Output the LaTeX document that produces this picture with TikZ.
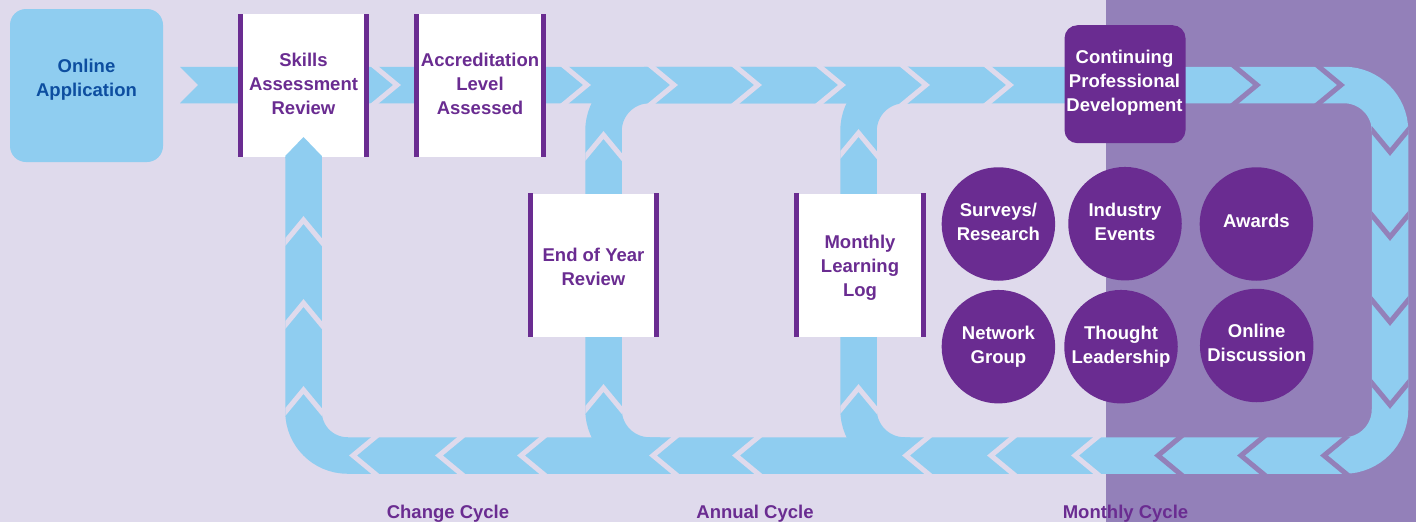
\documentclass[tikz,border=0pt]{standalone}
\usepackage{fontspec}
\setmainfont{Liberation Sans}
\definecolor{lav}{HTML}{DFDAEC}
\definecolor{dlav}{HTML}{9380B9}
\definecolor{bblue}{HTML}{8FCDF0}
\definecolor{purp}{HTML}{6A2C91}
\definecolor{dblue}{HTML}{0D4EA0}
% chevrons: right, left, up, down
\newcommand\chR[2]{\begin{scope}\clip ({#1-40},66.75) rectangle ({#1+10},103.25);\draw[chev,draw=#2] ({#1-29},61) -- (#1,85) -- ({#1-29},109);\end{scope}}
\newcommand\chL[2]{\begin{scope}\clip ({#1-10},437.25) rectangle ({#1+40},473.75);\draw[chev,draw=#2] ({#1+29},431.5) -- (#1,455.5) -- ({#1+29},479.5);\end{scope}}
\newcommand\chU[3]{\begin{scope}\clip ({#1-18.25},{#2-10}) rectangle ({#1+18.25},{#2+40});\draw[chev,draw=#3] ({#1-24},{#2+29}) -- (#1,#2) -- ({#1+24},{#2+29});\end{scope}}
\newcommand\chD[3]{\begin{scope}\clip ({#1-18.25},{#2+10}) rectangle ({#1+18.25},{#2-40});\draw[chev,draw=#3] ({#1-24},{#2-29}) -- (#1,#2) -- ({#1+24},{#2-29});\end{scope}}
\begin{document}
\begin{tikzpicture}[x=1pt,y=-1pt,
  band/.style={draw=bblue, line width=36.5pt},
  chev/.style={line width=5pt, line join=miter, miter limit=10},
  txt/.style={font=\bfseries\fontsize{18.5}{24}\selectfont, align=center, inner sep=0pt},
  wbox/.style={fill=white, minimum width=131pt, minimum height=143pt, inner sep=0pt},
  bub/.style={circle, fill=purp, minimum size=113.5pt, inner sep=0pt},
  lbl/.style={font=\bfseries\fontsize{18.5}{24}\selectfont, text=purp, inner sep=0pt, anchor=base}]
\useasboundingbox (0,0) rectangle (1416,522);
\fill[lav] (0,0) rectangle (1416,522);
\fill[dlav] (1106,0) rectangle (1416,522);
% bands
\fill[bblue] (180,66.75) -- (910,66.75) -- (910,103.25) -- (180,103.25) -- (198,85) -- cycle;
\draw[band, rounded corners=46pt] (858.5,85) rectangle (1390,455.5);
\draw[band, rounded corners=46pt] (910,85) -- (603.5,85) -- (603.5,455.5) -- (910,455.5);
\draw[band, rounded corners=44pt] (303.5,157) -- (303.5,455.5) -- (660,455.5);
% chevrons top
\chR{397}{lav}\chR{587}{lav}\chR{674}{lav}\chR{758}{lav}\chR{842}{lav}\chR{926}{lav}\chR{1010}{lav}
\chR{1257}{dlav}\chR{1341}{dlav}
% chevrons right side
\chD{1390}{152}{dlav}\chD{1390}{237}{dlav}\chD{1390}{322}{dlav}\chD{1390}{405}{dlav}
% chevrons bottom
\chL{353}{lav}\chL{439}{lav}\chL{521}{lav}\chL{653}{lav}\chL{736}{lav}\chL{906}{lav}\chL{991}{lav}\chL{1075}{lav}
\chL{1158}{dlav}\chL{1241}{dlav}\chL{1324}{dlav}
% chevrons vertical bands
\chU{303.5}{220}{lav}\chU{303.5}{303}{lav}\chU{303.5}{390}{lav}
\chU{603.5}{135}{lav}\chU{603.5}{388}{lav}
\chU{858.5}{133}{lav}\chU{858.5}{388}{lav}
% boxes
\node[fill=bblue, rounded corners=16pt, minimum width=153pt, minimum height=153pt, inner sep=0pt] (oa) at (86.5,85.5) {};
\node[wbox] (sk) at (303.5,85.5) {};
\node[wbox] (ac) at (480,85.5) {};
\node[wbox] (ey) at (593.5,265) {};
\node[wbox] (ml) at (860,265) {};
\foreach \b in {sk,ac,ey,ml}{
  \fill[purp] (\b.north west) rectangle ([xshift=5pt]\b.south west);
  \fill[purp] ([xshift=-5pt]\b.north east) rectangle (\b.south east);
}
\node[fill=purp, rounded corners=13pt, minimum width=121pt, minimum height=118pt, inner sep=0pt] (cpd) at (1125,84.2) {};
% arrow head into skills box
\fill[bblue] (285.25,158) -- (285.25,156) -- (303.5,137) -- (321.75,156) -- (321.75,158) -- cycle;
% bubbles
\node[bub] (sv) at (998.4,224) {};
\node[bub] (ie) at (1125,223.7) {};
\node[bub] (aw) at (1256.4,224) {};
\node[bub] (ng) at (998.4,346.7) {};
\node[bub] (tl) at (1121,346.7) {};
\node[bub] (od) at (1256.7,345.5) {};
% texts
\node[txt, text=dblue] (oat) at (86.5,80) {Online\\Application};
\node[txt, text=purp] (skt) at (303.5,84) {Skills\\Assessment\\Review};
\node[txt, text=purp] (act) at (480,84) {Accreditation\\Level\\Assessed};
\node[txt, text=purp] (eyt) at (593.5,267.3) {End of Year\\Review};
\node[txt, text=purp] (mlt) at (860,268) {Monthly\\Learning\\Log};
\node[txt, text=white] (cpdt) at (1124.5,83) {Continuing\\Professional\\Development};
\node[txt, text=white] (svt) at (998.4,221.7) {Surveys/\\Research};
\node[txt, text=white] (iet) at (1125,221.7) {Industry\\Events};
\node[txt, text=white] (awt) at (1256.4,220.7) {Awards};
\node[txt, text=white] (ngt) at (998.4,346.7) {Network\\Group};
\node[txt, text=white] (tlt) at (1121,346.7) {Thought\\Leadership};
\node[txt, text=white] (odt) at (1256.7,343.3) {Online\\Discussion};
\node[lbl] (cc) at (448,518) {Change Cycle};
\node[lbl] (anc) at (755,518) {Annual Cycle};
\node[lbl] (mc) at (1125.5,518) {Monthly Cycle};
\end{tikzpicture}
\end{document}
